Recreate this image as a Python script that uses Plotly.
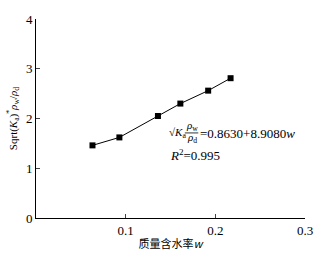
import plotly.graph_objects as go

w = [0.063, 0.093, 0.136, 0.161, 0.192, 0.217]
val = [1.46, 1.62, 2.05, 2.30, 2.56, 2.81]
xticks = [0, 0.1, 0.2, 0.3]
yticks = [0, 1, 2, 3, 4]

serif = "Liberation Serif, Times New Roman, serif"
fig = go.Figure()
fig.add_trace(go.Scatter(x=w, y=val, mode="lines+markers",
                         line=dict(color="black", width=1),
                         marker=dict(symbol="square", size=6, color="black"),
                         showlegend=False, cliponaxis=False))

ann = dict(showarrow=False, font=dict(family=serif, size=13, color="black"))
small = dict(showarrow=False, font=dict(family=serif, size=11, color="black"))
fig.add_annotation(x=0.146, y=1.70, xanchor="left", yanchor="middle",
                   text="√<i>K</i><sub>a</sub>", **small)
fig.add_annotation(x=0.1735, y=1.84, xanchor="center", yanchor="middle",
                   text="<i>ρ</i><sub>w</sub>", **small)
fig.add_annotation(x=0.1735, y=1.60, xanchor="center", yanchor="middle",
                   text="<i>ρ</i><sub>d</sub>", **small)
fig.add_shape(type="line", x0=0.166, x1=0.181, y0=1.71, y1=1.71,
              line=dict(color="black", width=0.8))
fig.add_annotation(x=0.181, y=1.70, xanchor="left", yanchor="middle",
                   text="=0.8630+8.9080<i>w</i>", **ann)
fig.add_annotation(x=0.147, y=1.27, xanchor="left", yanchor="middle",
                   text="<i>R</i><sup>2</sup>=0.995", **ann)

fig.update_layout(
    width=325, height=260,
    margin=dict(l=36, r=14, t=19, b=39),
    plot_bgcolor="white", paper_bgcolor="white",
    font=dict(family=serif, size=13, color="black"),
    xaxis=dict(range=[0, 0.3], tickvals=xticks, ticktext=["", "0.1", "0.2", "0.3"],
               ticks="inside", ticklen=4, showline=True, linecolor="black",
               linewidth=1, showgrid=False, zeroline=False,
               title=dict(text="质量含水率<i>w</i>", standoff=3,
                          font=dict(family="Noto Sans CJK SC", size=11))),
    yaxis=dict(range=[0, 4], tickvals=yticks,
               ticks="inside", ticklen=4, showline=True, linecolor="black",
               linewidth=1, showgrid=False, zeroline=False,
               title=dict(text="Sqrt(<i>K</i><sub>a</sub>)<sup>*</sup><i>ρ</i><sub>w</sub>/<i>ρ</i><sub>d</sub>",
                          standoff=6, font=dict(family=serif, size=11))),
)
fig.write_html("out.html")
